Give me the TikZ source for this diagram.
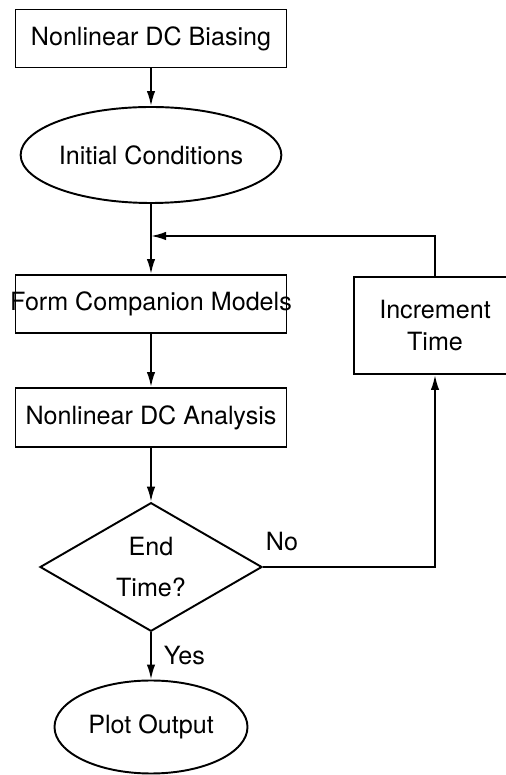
\documentclass[tikz,border=0pt]{standalone}
\usepackage{fontspec}
\setmainfont{TeX Gyre Heros}
\usetikzlibrary{positioning}
\usetikzlibrary{arrows.meta}
\usetikzlibrary{shapes}

\begin{document}
\begin{tikzpicture}[font=\fontsize{14.3pt}{18pt}\selectfont,line width=1.1pt]
	\tikzstyle{block} = [draw,rectangle,minimum width=5.42cm,minimum height=1.16cm,inner sep=0pt]
	\tikzstyle{oval} = [draw,ellipse,inner sep=0pt]
	\tikzstyle{decision} = [draw,diamond,minimum width=4.44cm,minimum height=2.56cm,inner sep=0pt,align=center]
	\tikzstyle{flow} = [-{Latex[length=0.3cm,width=0.17cm]}]

	\useasboundingbox (0,0) rectangle (10.1,15.5);

	\node[block] at (3.02,14.73) (bias) {Nonlinear DC Biasing};
	\node[oval,minimum width=4.8cm,minimum height=1.92cm] at (3.02,12.4) (init) {Initial Conditions};
	\coordinate (junc) at (3.02,10.78);
	\node[block] at (3.02,9.42) (comp) {\makebox[0pt]{Form Companion Models}};
	\node[block,minimum width=3.24cm,minimum height=1.94cm,align=center] at (8.7,8.99) (incr) {Increment\\Time};
	\node[block,minimum height=1.18cm] at (3.02,7.15) (anal) {Nonlinear DC Analysis};
	\node[decision] at (3.02,4.16) (dec) {End\\[0.17cm]Time?};
	\node[oval,minimum width=3.86cm,minimum height=1.86cm] at (3.02,0.96) (plot) {Plot Output};

	\begin{scope}[flow]
		\draw (bias) -- (init);
		\draw (init) -- (comp);
		\draw (incr.north) |- (junc);
		\draw (comp) -- (anal);
		\draw (anal) -- (dec);
		\draw (dec.east) -- node[pos=0,above right=0.3cm and 0.04cm,inner sep=0pt] {No} (dec.east -| incr.south) -- (incr.south);
		\draw (dec) -- node[right,xshift=0.12cm] {Yes} (plot);
	\end{scope}
\end{tikzpicture}
\end{document}
